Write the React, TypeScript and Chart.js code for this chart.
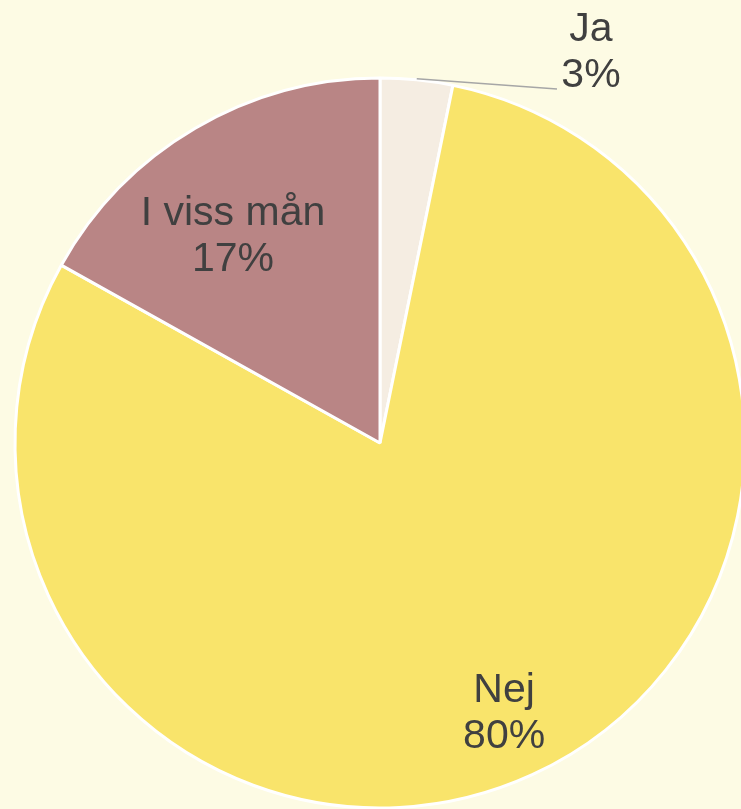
import React, { useEffect, useRef } from "react";
import { Chart, registerables } from "chart.js";

Chart.register(...registerables);

const categories = ["Ja", "Nej", "I viss mån"];
const values = [3.2, 79.9, 16.9];
const valueLabels = ["3%", "80%", "17%"];
const colors = ["#F5EDE2", "#F9E46B", "#B98585"];

// label placement: radius factor, angle shift (deg), outside with leader
const placements = [
  { dx: 211, dy: -390, leader: true },
  { rf: 0.815, da: 0 },
  { rf: 0.695, da: -5 },
];

const labelPlugin = {
  id: "pieLabels",
  afterDatasetsDraw(chart: any) {
    const ctx = chart.ctx;
    const meta = chart.getDatasetMeta(0);
    ctx.save();
    ctx.font = '41px "Liberation Sans", Arial, sans-serif';
    ctx.fillStyle = "#404040";
    ctx.textAlign = "center";
    ctx.textBaseline = "middle";
    meta.data.forEach((arc: any, i: number) => {
      const { x, y, startAngle, endAngle, outerRadius } = arc.getProps(
        ["x", "y", "startAngle", "endAngle", "outerRadius"],
        true
      );
      const mid = (startAngle + endAngle) / 2;
      const p: any = placements[i];
      let lx: number, ly: number;
      if (p.leader) {
        const sx = x + Math.cos(mid) * (outerRadius + 1);
        const sy = y + Math.sin(mid) * (outerRadius + 1);
        lx = x + p.dx;
        ly = y + p.dy;
        ctx.beginPath();
        ctx.strokeStyle = "#A6A6A6";
        ctx.lineWidth = 1.5;
        ctx.moveTo(sx, sy);
        ctx.lineTo(lx - 34, ly + 36);
        ctx.stroke();
      } else {
        const a = mid + (p.da * Math.PI) / 180;
        lx = x + Math.cos(a) * outerRadius * p.rf;
        ly = y + Math.sin(a) * outerRadius * p.rf;
      }
      ctx.fillText(categories[i], lx, ly - 23);
      ctx.fillText(valueLabels[i], lx, ly + 23);
    });
    ctx.restore();
  },
};

export default function App() {
  const ref = useRef<HTMLCanvasElement | null>(null);
  useEffect(() => {
    document.body.style.margin = "0";
    document.body.style.background = "#FDFBE4";
    const chart = new Chart(ref.current as HTMLCanvasElement, {
      type: "pie",
      data: {
        labels: categories,
        datasets: [
          {
            data: values,
            backgroundColor: colors,
            borderColor: "#FFFFFF",
            borderWidth: 3,
          },
        ],
      },
      options: {
        responsive: false,
        animation: false,
        radius: 365,
        layout: { padding: 0 },
        plugins: {
          legend: { display: false },
          tooltip: { enabled: false },
        },
      } as any,
      plugins: [labelPlugin],
    });
    return () => chart.destroy();
  }, []);
  return (
    <div
      style={{
        position: "fixed",
        left: 0,
        top: 0,
        width: 741,
        height: 809,
        overflow: "hidden",
        background: "#FDFBE4",
      }}
    >
      <canvas ref={ref} width={760} height={886} style={{ display: "block" }} />
    </div>
  );
}
